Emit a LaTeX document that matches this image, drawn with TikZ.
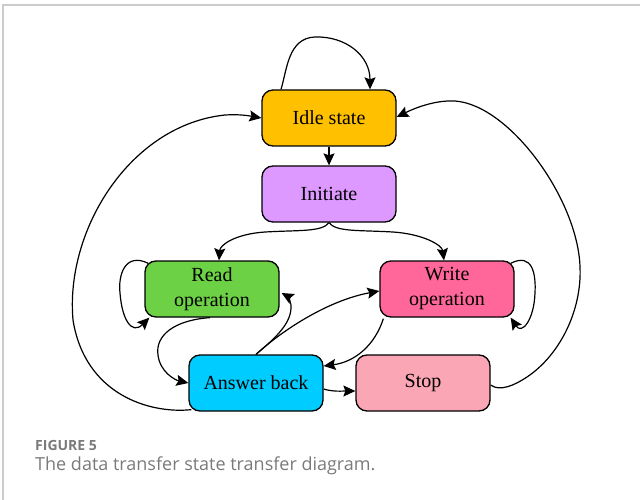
\documentclass[tikz,border=0pt]{standalone}
\usepackage{fontspec}
\setmainfont{Liberation Serif}
\newfontfamily\capfont{Open Sans}
\usetikzlibrary{arrows.meta,calc,backgrounds}
\definecolor{idlec}{HTML}{FFC000}
\definecolor{initc}{HTML}{DD99FF}
\definecolor{readc}{HTML}{6DD145}
\definecolor{writec}{HTML}{FF6699}
\definecolor{ansc}{HTML}{00CCFF}
\definecolor{stopc}{HTML}{FAA6B4}
\definecolor{capgrey}{HTML}{7A7A7A}
\definecolor{framegrey}{HTML}{CCCCCC}
\begin{document}
\begin{tikzpicture}[x=1pt,y=-1pt,
  box/.style={draw=black, line width=1.3pt, rounded corners=11pt, minimum width=134pt, minimum height=56pt, inner sep=0pt, align=center, font=\fontsize{20}{25}\selectfont},
  link/.style={line width=1.2pt, -{Stealth[length=12pt,width=11pt,inset=2pt]}},
  captext/.style={anchor=base west, inner sep=0pt, text=capgrey},
]
\useasboundingbox (0,0) rectangle (640,500);
\draw[line width=1.5pt, draw=framegrey] (3,500) -- (3,5) -- (640,5);

\node[box, fill=idlec] (idle) at (329,118) {Idle state};
\node[box, fill=initc] (init) at (329,194) {Initiate};
\node[box, fill=readc] (read) at (212,289) {Read\\operation};
\node[box, fill=writec] (write) at (447,289) {Write\\operation};
\node[box, fill=ansc] (ans) at (256,383) {Answer back};
\node[box, fill=stopc] (stop) at (423,383) {Stop};

\node[captext, font=\capfont\bfseries\fontsize{14}{16}\selectfont] (figlabel) at (35,450) {FIGURE 5};
\node[captext, font=\capfont\fontsize{18}{21}\selectfont] (figcap) at (35,470) {The data transfer state transfer diagram.};

\begin{scope}[on background layer]
\draw[link] ($(idle.north)+(-48,0)$) .. controls (287,70) and (288,38) .. (315,37) .. controls (345,36) and (370,55) .. ($(idle.north)+(41,0)$);
\draw[link] (idle) -- (init);
\draw[link] (init.south) .. controls (322,232) and (300,230) .. (265,232) .. controls (235,234) and (220,245) .. ($(read.north)+(7,0)$);
\draw[link] (init.south) .. controls (336,232) and (358,230) .. (393,232) .. controls (423,234) and (442,245) .. ($(write.north)+(-3,0)$);
\draw[link] ($(read.north west)+(4,3)$) .. controls (125,252) and (118,275) .. (120,293) .. controls (122,320) and (132,335) .. ($(read.south west)+(5,0)$);
\draw[link] ($(write.north east)+(-4,3)$) .. controls (533,252) and (536,275) .. (535,293) .. controls (534,320) and (522,335) .. ($(write.south east)+(-4,0)$);
\draw[link] ($(read.south)+(-2,0)$) .. controls (175,320) and (155,335) .. (158,355) .. controls (160,372) and (175,380) .. (ans.west);
\draw[link] (ans.north) .. controls (278,336) and (292,322) .. (291,305) .. controls (290,299) and (287,296) .. ($(read.east)+(2,4)$);
\draw[link] (ans.north) .. controls (285,328) and (330,300) .. ($(write.west)+(0,2)$);
\draw[link] ($(write.south west)+(4,1)$) .. controls (375,345) and (355,362) .. ($(ans.east)+(0,-17)$);
\draw[link] ($(ans.east)+(0,6)$) .. controls (333,392) and (343,391) .. ($(stop.west)+(0,8)$);
\draw[link] ($(stop.east)+(0,2)$) .. controls (500,392) and (515,385) .. (527,377) .. controls (560,355) and (582,310) .. (580,267) .. controls (578,200) and (510,105) .. (455,101) .. controls (435,100) and (415,108) .. ($(idle.east)+(0,-1)$);
\draw[link] ($(ans.south west)+(3,-2)$) .. controls (150,414) and (85,395) .. (73,320) .. controls (65,230) and (130,125) .. (225,115) .. controls (240,114) and (250,116) .. (idle.west);
\end{scope}
\end{tikzpicture}
\end{document}
